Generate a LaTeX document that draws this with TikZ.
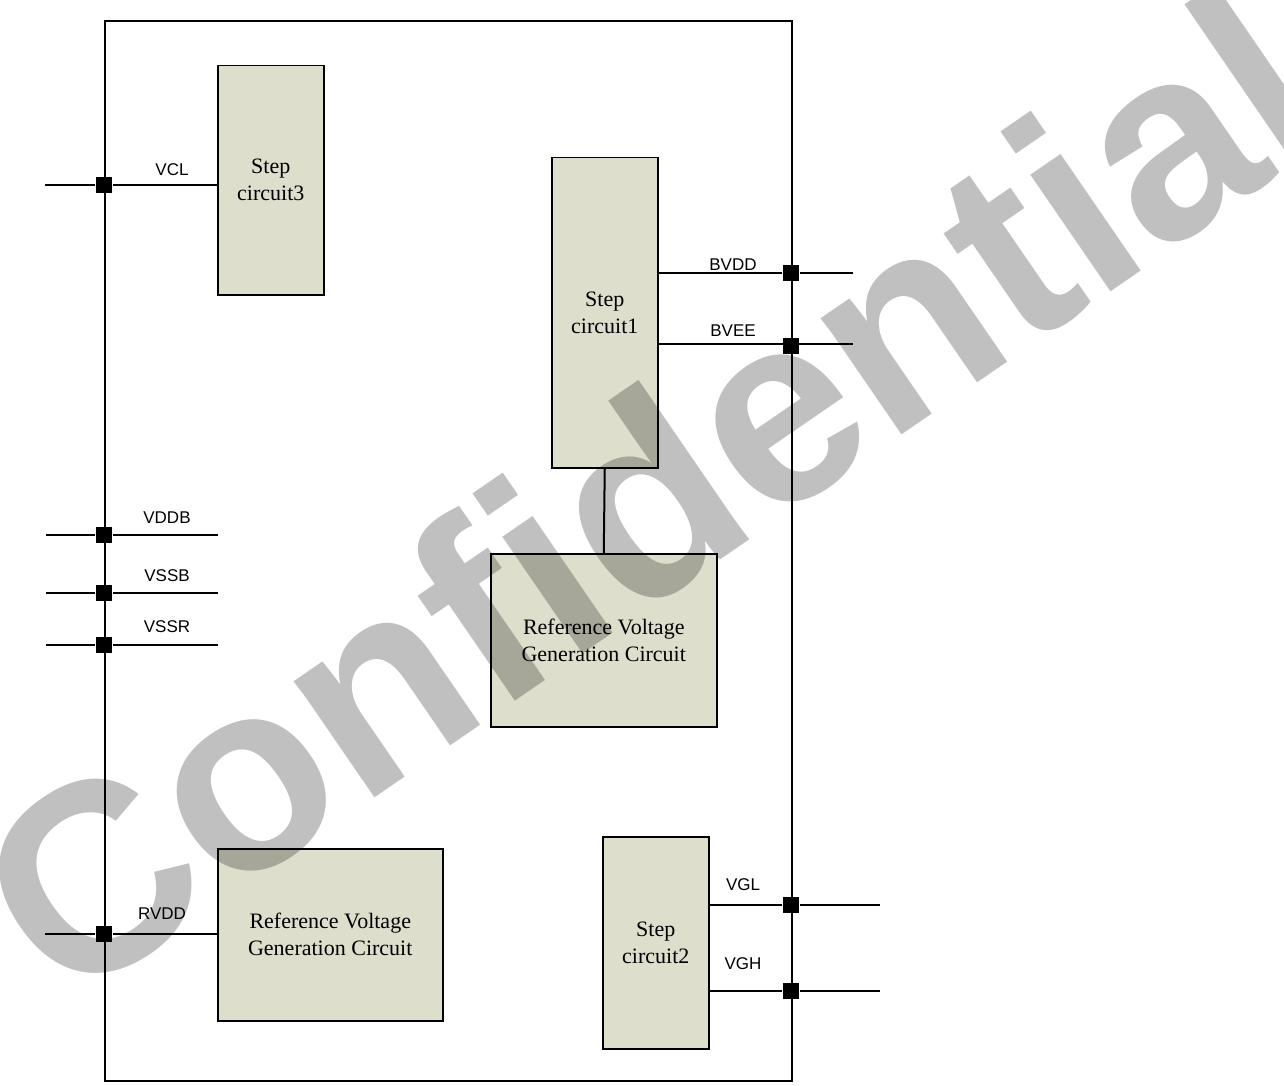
\documentclass[tikz,border=0pt]{standalone}
\usepackage{fontspec}
\setmainfont{Liberation Serif}
\setsansfont{Liberation Sans}
\usetikzlibrary{positioning}
\definecolor{blockfill}{RGB}{221,222,204}
\definecolor{wmgray}{RGB}{192,192,192}

\begin{document}
\begin{tikzpicture}[x=1pt,y=-1pt,line width=2pt,
        block/.style={draw,line width=1.5pt,fill=blockfill,inner sep=0pt,anchor=north west,align=center,font=\fontsize{22}{27}\selectfont},
        junct/.style={fill,rectangle,minimum size=16pt,inner sep=0pt},
        pin/.style={font=\sffamily\fontsize{17}{17}\selectfont,inner sep=0pt}]
        \useasboundingbox (0,0) rectangle (1284,1086);
        \node[draw,line width=2pt,anchor=north west,minimum width=687pt,minimum height=1060pt,inner sep=0pt] (chip) at (104,20) {};

        \node[block,minimum width=106pt,minimum height=229pt] (sc3) at (217,65) {Step\\circuit3};
        \node[block,minimum width=106pt,minimum height=310pt] (sc1) at (551,157) {Step\\circuit1};
        \node[block,minimum width=226pt,minimum height=173pt] (ref1) at (490,553) {Reference Voltage\\Generation Circuit};
        \node[block,minimum width=225pt,minimum height=172pt] (ref2) at (217,848) {Reference Voltage\\Generation Circuit};
        \node[block,minimum width=106pt,minimum height=212pt] (sc2) at (602,836) {Step\\circuit2};

        \draw (sc1.south) -- (ref1.north);

        \coordinate (vclin) at (45,185);
        \node[junct] (jvcl) at (104,185) {};
        \draw (vclin) -- (jvcl) -- (jvcl -| sc3.west);
        \node[pin] at (172,170) {VCL};

        \coordinate (bvddout) at (853,273);
        \node[junct] (jbvdd) at (791,273) {};
        \draw (sc1.east |- jbvdd) -- (jbvdd) -- (bvddout);
        \node[pin] at (733,265) {BVDD};

        \coordinate (bveeout) at (853,344);
        \node[junct] (jbvee) at (791,346) {};
        \draw (sc1.east |- bveeout) -- (bveeout);
        \node[pin] at (733,331) {BVEE};

        \coordinate (vddbin) at (46,535);
        \coordinate (vddbend) at (218,535);
        \node[junct] (jvddb) at (104,535) {};
        \draw (vddbin) -- (jvddb) -- (vddbend);
        \node[pin] at (167,518) {VDDB};

        \coordinate (vssbin) at (46,593);
        \coordinate (vssbend) at (218,593);
        \node[junct] (jvssb) at (104,593) {};
        \draw (vssbin) -- (jvssb) -- (vssbend);
        \node[pin] at (167,576) {VSSB};

        \coordinate (vssrin) at (46,645);
        \coordinate (vssrend) at (218,645);
        \node[junct] (jvssr) at (104,645) {};
        \draw (vssrin) -- (jvssr) -- (vssrend);
        \node[pin] at (167,627) {VSSR};

        \coordinate (rvddin) at (45,934);
        \node[junct] (jrvdd) at (104,934) {};
        \draw (rvddin) -- (jrvdd) -- (jrvdd -| ref2.west);
        \node[pin] at (162,914) {RVDD};

        \coordinate (vglout) at (880,905);
        \node[junct] (jvgl) at (791,905) {};
        \draw (sc2.east |- jvgl) -- (jvgl) -- (vglout);
        \node[pin] at (743,885) {VGL};

        \coordinate (vghout) at (880,991);
        \node[junct] (jvgh) at (791,991) {};
        \draw (sc2.east |- jvgh) -- (jvgh) -- (vghout);
        \node[pin] at (743,964) {VGH};

        \begin{scope}[blend mode=multiply]
                \node[text=wmgray,font=\sffamily\bfseries\fontsize{268}{268}\selectfont,rotate=34.5,inner sep=0pt,anchor=base west] (wm) at (64,1011) {Confidential};
        \end{scope}
\end{tikzpicture}
\end{document}
